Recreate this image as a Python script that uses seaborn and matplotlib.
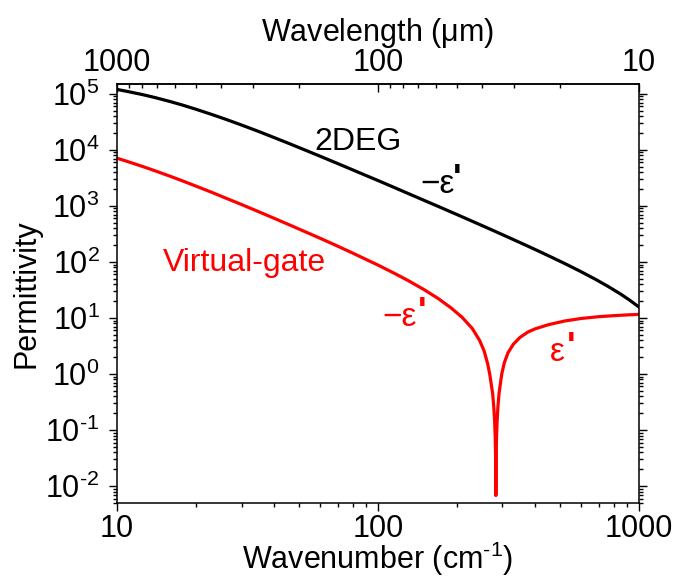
import numpy as np
import pandas as pd
import matplotlib
matplotlib.use("Agg")
import matplotlib.pyplot as plt
import matplotlib.ticker as mticker
import seaborn as sns

# ---- data ----
wn_2deg = [10, 11, 12.5, 14, 16, 18, 20, 23, 26, 30, 35, 40, 46, 53, 60, 70, 80, 90, 100, 115, 130,
           150, 170, 195, 225, 260, 300, 350, 400, 460, 530, 600, 680, 760, 850, 920, 1000]
eps_2deg = [1.2e5, 1.10e5, 9.72e4, 8.58e4, 7.28e4, 6.22e4, 5.34e4, 4.31e4, 3.54e4, 2.78e4, 2.12e4,
            1.66e4, 1.28e4, 9.78e3, 7.71e3, 5.72e3, 4.40e3, 3.49e3, 2.84e3, 2.15e3, 1.68e3, 1.26e3,
            982, 744, 556, 413, 307, 222, 167, 123, 89.6, 67, 49.3, 36.8, 26.8, 20.9, 15.7]

wn_vg = [10, 11, 12.5, 14, 16, 18, 20, 23, 26, 30, 35, 40, 46, 53, 60, 70, 80, 90, 100, 115, 130,
         150, 170, 190, 210, 230, 245, 255, 263, 268, 275, 278, 280, 281.5, 282.5, 283, 283.5, 284.5,
         286, 288, 291, 298, 305, 315, 330, 350, 375, 400, 450, 520, 600, 700, 800, 900, 1000]
eps_vg = [7.10e3, 6.18e3, 5.08e3, 4.23e3, 3.38e3, 2.75e3, 2.27e3, 1.76e3, 1.39e3, 1.06e3, 784, 602,
          455, 341, 265, 192, 144, 111, 88, 63.5, 47.0, 32.2, 22.3, 15.3, 10.3, 6.47, 4.0, 2.6, 1.55,
          1.0, 0.45, 0.25, 0.14, 0.07, 0.025, 0.0068, 0.025, 0.07, 0.14, 0.25, 0.45, 1.0, 1.6, 2.4,
          3.4, 4.5, 5.6, 6.4, 7.6, 8.85, 9.8, 10.55, 11.0, 11.35, 11.6]

x_ticks = [10, 100, 1000]
x_ticklabels = ["10", "100", "1000"]
top_ticks = [1000, 100, 10]
top_ticklabels = ["1000", "100", "10"]

df1 = pd.DataFrame({"wn": wn_2deg, "eps": eps_2deg})
df2 = pd.DataFrame({"wn": wn_vg, "eps": eps_vg})

sns.set_style("ticks")
plt.rcParams["font.family"] = ["Liberation Sans", "DejaVu Sans"]
plt.rcParams["mathtext.fontset"] = "custom"
plt.rcParams["mathtext.rm"] = "Liberation Sans"
plt.rcParams["mathtext.it"] = "Liberation Sans:italic"
plt.rcParams["mathtext.bf"] = "Liberation Sans:bold"
plt.rcParams["mathtext.default"] = "regular"
plt.rcParams["axes.unicode_minus"] = False
for k in ["text.color", "axes.labelcolor", "xtick.color", "ytick.color", "axes.edgecolor"]:
    plt.rcParams[k] = "black"

fig = plt.figure(figsize=(6.75, 5.78), dpi=100)
ax = fig.add_axes([0.1733, 0.1298, 0.7733, 0.7249])

sns.lineplot(data=df1, x="wn", y="eps", ax=ax, color="black", lw=2.3, estimator=None)
sns.lineplot(data=df2, x="wn", y="eps", ax=ax, color="#ff0000", lw=2.3, estimator=None)

ax.set_xscale("log")
ax.set_yscale("log")
ax.set_xlim(10, 1000)
ax.set_ylim(5e-3, 1.5e5)


def yfmt(v, pos):
    e = int(round(np.log10(v)))
    s = str(e).replace("-", "\u2010")
    return "$10^{" + s + "}$"


fs = 22
ax.xaxis.set_major_locator(mticker.FixedLocator(x_ticks))
ax.xaxis.set_major_formatter(mticker.FixedFormatter(x_ticklabels))
ax.xaxis.set_minor_locator(mticker.LogLocator(base=10, subs=np.arange(2, 10), numticks=20))
ax.xaxis.set_minor_formatter(mticker.NullFormatter())
ax.yaxis.set_major_locator(mticker.LogLocator(base=10, numticks=20))
ax.yaxis.set_major_formatter(mticker.FuncFormatter(yfmt))
ax.yaxis.set_minor_locator(mticker.LogLocator(base=10, subs=np.arange(2, 10), numticks=20))
ax.yaxis.set_minor_formatter(mticker.NullFormatter())

for s in ax.spines.values():
    s.set_linewidth(1.1)
    s.set_visible(True)
ax.tick_params(which="both", direction="out", top=False, right=True, left=True, bottom=True,
               width=1.0, labelsize=fs, colors="black")
ax.tick_params(which="major", length=5.5)
ax.tick_params(axis="y", which="major", pad=7)
ax.tick_params(axis="x", which="major", pad=2.5)
ax.tick_params(which="minor", length=3)

ax.set_xlabel("Wavenumber (cm$^{\u20101}$)", fontsize=fs, labelpad=-3)
ax.set_ylabel("Permittivity", fontsize=fs, labelpad=3)

sec = ax.secondary_xaxis("top", functions=(lambda x: 1e4 / x, lambda x: 1e4 / x))
sec.xaxis.set_major_locator(mticker.FixedLocator(top_ticks))
sec.xaxis.set_major_formatter(mticker.FixedFormatter(top_ticklabels))
sec.xaxis.set_minor_locator(mticker.LogLocator(base=10, subs=np.arange(2, 10), numticks=20))
sec.xaxis.set_minor_formatter(mticker.NullFormatter())
sec.tick_params(which="both", direction="in", width=1.0, labelsize=fs, pad=4, colors="black")
sec.tick_params(which="major", length=5.5)
sec.tick_params(which="minor", length=3)
sec.spines["top"].set_linewidth(1.1)
sec.set_xlabel("Wavelength ($\\mu$m)", fontsize=fs, labelpad=5.5)

tfs = 23
efs = 24
ax.text(0.379, 0.843, "2DEG", transform=ax.transAxes, fontsize=tfs, color="black", ha="left", va="baseline")
ax.text(0.088, 0.554, "Virtual-gate", transform=ax.transAxes, fontsize=tfs, color="#ff0000", ha="left", va="baseline")


def eps_label(fx, fy, txt, color, dx):
    ax.annotate(txt, xy=(fx, fy), xycoords="axes fraction", fontsize=efs, color=color,
                ha="left", va="baseline")
    ax.annotate("'", xy=(fx, fy), xycoords="axes fraction", xytext=(dx, 2.2),
                textcoords="offset points", fontsize=26, fontweight="bold", color=color,
                ha="left", va="baseline")


eps_label(0.5805, 0.740, "\u2212\u03b5", "black", 23.5)
eps_label(0.5077, 0.4224, "\u2212\u03b5", "#ff0000", 25.5)
eps_label(0.8295, 0.3377, "\u03b5", "#ff0000", 12.5)

fig.savefig("out.png", dpi=100)
